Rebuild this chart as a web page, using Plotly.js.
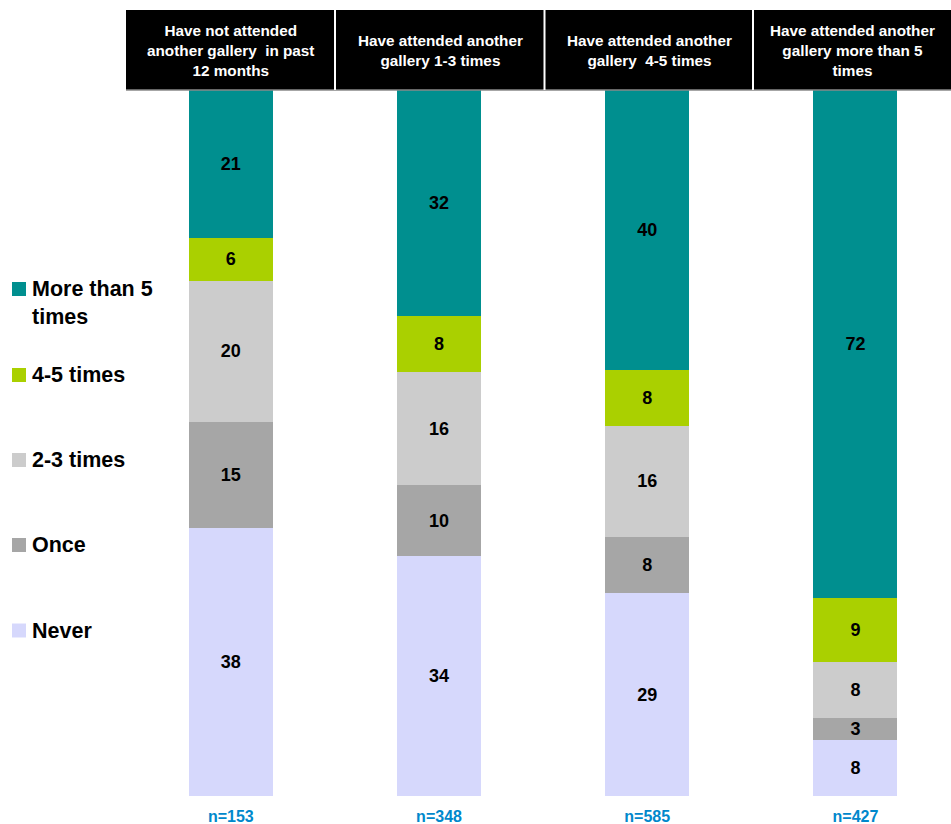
<!DOCTYPE html>
<html>
<head>
<meta charset="utf-8">
<script src="https://cdn.plot.ly/plotly-3.0.1.min.js"></script>
<style>html,body{margin:0;padding:0;background:#fff;}#chart{width:951px;height:824px;}</style>
</head>
<body>
<div id="chart"></div>
<script>
// ---- data ----
const groups = [
  "Have not attended<br>another gallery  in past<br>12 months",
  "Have attended another<br>gallery 1-3 times",
  "Have attended another<br>gallery  4-5 times",
  "Have attended another<br>gallery more than 5<br>times"
];
const sampleSizes = ["n=153", "n=348", "n=585", "n=427"];
const seriesNames = ["Never", "Once", "2-3 times", "4-5 times", "More than 5<br>times"];
const never = [38, 34, 29, 8];
const once = [15, 10, 8, 3];
const twoThree = [20, 16, 16, 8];
const fourFive = [6, 8, 8, 9];
const moreFive = [21, 32, 40, 72];
const seriesColors = ["#D6D8FC", "#A6A6A6", "#CCCCCC", "#AAD000", "#008F8F"];

// ---- build ----
const W = 951, H = 824;
const xs = groups.map((g, i) => i);
const seriesValues = [never, once, twoThree, fourFive, moreFive];
const labelFont = {family: "Liberation Sans, Arial, sans-serif", size: 18, color: "#000", weight: 700};

const traces = seriesValues.map((vals, k) => ({
  type: "bar",
  x: xs,
  y: vals,
  name: seriesNames[k],
  marker: {color: seriesColors[k], line: {width: 0}},
  text: vals.map(String),
  texttemplate: "%{text}",
  textposition: "inside",
  insidetextanchor: "middle",
  textangle: 0,
  textfont: labelFont,
  hoverinfo: "skip",
  showlegend: false
}));

const px = v => v / W;
const py = v => (H - v) / H;

const shapes = [];
const annotations = [];

// header black band
shapes.push({type: "rect", xref: "paper", yref: "paper", x0: px(126), x1: px(951), y0: py(90), y1: py(10),
  fillcolor: "#000", line: {width: 0}, layer: "above"});
shapes.push({type: "line", xref: "paper", yref: "paper", x0: px(126), x1: px(951), y0: py(90), y1: py(90),
  line: {color: "#888", width: 1.5}, layer: "above"});
const dividers = [335, 544.5, 753];
dividers.forEach(d => shapes.push({type: "line", xref: "paper", yref: "paper", x0: px(d), x1: px(d),
  y0: py(90), y1: py(10), line: {color: "#fff", width: 2}, layer: "above"}));
const headerCenters = [230, 440, 649, 852.5];
groups.forEach((g, i) => annotations.push({
  xref: "paper", yref: "paper", x: px(headerCenters[i]), y: py(50.5), xanchor: "center", yanchor: "middle",
  text: g, showarrow: false, align: "center",
  font: {family: "Liberation Sans, Arial, sans-serif", size: 15.3, color: "#fff", weight: 700}
}));

// legend (top to bottom: More than 5 ... Never)
const legendLineY = [289, 375, 460, 545, 630.5];
const legendOrder = [4, 3, 2, 1, 0];
legendOrder.forEach((k, j) => {
  const cy = legendLineY[j];
  shapes.push({type: "rect", xref: "paper", yref: "paper", x0: px(12), x1: px(26), y0: py(cy + 7), y1: py(cy - 7),
    fillcolor: seriesColors[k], line: {width: 0}});
  const multi = seriesNames[k].indexOf("<br>") >= 0;
  annotations.push({xref: "paper", yref: "paper", x: px(30), y: py(multi ? cy + 14 : cy),
    xanchor: "left", yanchor: "middle", align: "left", showarrow: false, text: seriesNames[k],
    font: {family: "Liberation Sans, Arial, sans-serif", size: 21.5, color: "#000", weight: 700}});
});

const layout = {
  width: W, height: H,
  margin: {l: 0, r: 0, t: 0, b: 0},
  paper_bgcolor: "#fff", plot_bgcolor: "#fff",
  barmode: "stack", barnorm: "percent", bargap: 0.5965,
  uniformtext: {minsize: 18, mode: "show"},
  xaxis: {domain: [127 / W, 1], range: [-0.4986, 3.459], tickvals: xs, ticktext: sampleSizes,
    showgrid: false, zeroline: false, showline: false, ticks: "", automargin: false, fixedrange: true,
    ticklabelstandoff: 9,
    tickfont: {family: "Liberation Sans, Arial, sans-serif", size: 16, color: "#0088CC", weight: 700}},
  yaxis: {domain: [py(796), py(90)], range: [0, 100], visible: false, fixedrange: true, automargin: false},
  shapes: shapes,
  annotations: annotations,
  showlegend: false
};

Plotly.newPlot("chart", traces, layout, {displayModeBar: false, staticPlot: true});
</script>
</body>
</html>
